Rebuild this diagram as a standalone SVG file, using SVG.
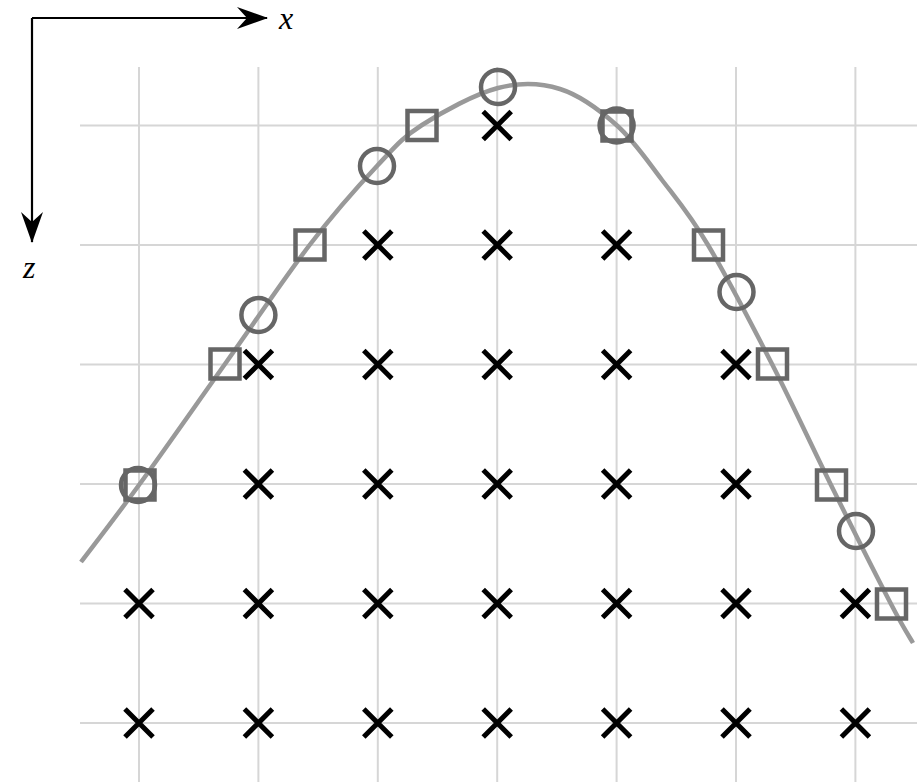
<svg xmlns="http://www.w3.org/2000/svg" width="917" height="782" viewBox="0 0 917 782">
  <defs>
    <style>
      .grid line { stroke: #d6d6d6; stroke-width: 2; }
      .axis { stroke: #000; stroke-width: 2.2; fill: none; }
      .curve { stroke: #999; stroke-width: 4.5; fill: none; }
      .circ { stroke: #666; stroke-width: 4.5; fill: none; }
      .sq { stroke: #666; stroke-width: 4.5; fill: none; }
      .lbl { font-family: "Liberation Serif", "Times New Roman", serif; font-style: italic; font-size: 32px; fill: #000; }
    </style>
    <path id="x" d="M-14,-14 L14,14 M-14,14 L14,-14" stroke="#000" stroke-width="5" fill="none"/>
    <marker id="ah" viewBox="0 0 32 22" refX="30" refY="11" markerWidth="32" markerHeight="22" markerUnits="userSpaceOnUse" orient="auto">
      <path d="M0,0 L31,11 L0,22 L10,11 Z" fill="#000"/>
    </marker>
  </defs>
  <rect width="917" height="782" fill="#fff"/>

  <!-- background grid -->
  <g class="grid">
    <line x1="139" y1="67" x2="139" y2="782"/>
    <line x1="258.4" y1="67" x2="258.4" y2="782"/>
    <line x1="377.8" y1="67" x2="377.8" y2="782"/>
    <line x1="497.2" y1="67" x2="497.2" y2="782"/>
    <line x1="616.6" y1="67" x2="616.6" y2="782"/>
    <line x1="736" y1="67" x2="736" y2="782"/>
    <line x1="855.4" y1="67" x2="855.4" y2="782"/>
    <line x1="80" y1="125.5" x2="917" y2="125.5"/>
    <line x1="80" y1="245" x2="917" y2="245"/>
    <line x1="80" y1="364.5" x2="917" y2="364.5"/>
    <line x1="80" y1="484" x2="917" y2="484"/>
    <line x1="80" y1="603.5" x2="917" y2="603.5"/>
    <line x1="80" y1="723" x2="917" y2="723"/>
  </g>

  <!-- coordinate axes -->
  <g id="axes">
    <path class="axis" d="M32,18 H267" marker-end="url(#ah)"/>
    <path class="axis" d="M32,18 V242" marker-end="url(#ah)"/>
    <text class="lbl" x="279" y="29">x</text>
    <text class="lbl" x="23" y="278">z</text>
  </g>

  <!-- interface curve -->
  <g id="connectors">
    <path class="curve" d="M81,562 C90.7,549.2 115,518 139,485 C163,452 196.5,404.1 225,364 C253.5,323.9 284.7,277.5 310,244.5 C335.3,211.5 358.3,185.9 377,166 C395.7,146.1 401.8,138 422,125 C442.2,112 475,94 498,88 C521,82 540.2,82.75 560,89 C579.8,95.25 600,110.3 617,125.5 C634,140.7 646.8,160.1 662,180 C677.2,199.9 689.7,214.3 708,245 C726.3,275.7 751.5,324 772,364 C792.5,404 811.2,445 831,485 C850.8,525 877.3,577.7 891,604 C904.7,630.3 909.3,636.5 913,643"/>
  </g>

  <!-- interior grid points -->
  <g id="crosses">
    <use href="#x" x="497.2" y="125.5"/>
    <use href="#x" x="377.8" y="245"/>
    <use href="#x" x="497.2" y="245"/>
    <use href="#x" x="616.6" y="245"/>
    <use href="#x" x="258.4" y="364.5"/>
    <use href="#x" x="377.8" y="364.5"/>
    <use href="#x" x="497.2" y="364.5"/>
    <use href="#x" x="616.6" y="364.5"/>
    <use href="#x" x="736" y="364.5"/>
    <use href="#x" x="258.4" y="484"/>
    <use href="#x" x="377.8" y="484"/>
    <use href="#x" x="497.2" y="484"/>
    <use href="#x" x="616.6" y="484"/>
    <use href="#x" x="736" y="484"/>
    <use href="#x" x="139" y="603.5"/>
    <use href="#x" x="258.4" y="603.5"/>
    <use href="#x" x="377.8" y="603.5"/>
    <use href="#x" x="497.2" y="603.5"/>
    <use href="#x" x="616.6" y="603.5"/>
    <use href="#x" x="736" y="603.5"/>
    <use href="#x" x="855.4" y="603.5"/>
    <use href="#x" x="139" y="723"/>
    <use href="#x" x="258.4" y="723"/>
    <use href="#x" x="377.8" y="723"/>
    <use href="#x" x="497.2" y="723"/>
    <use href="#x" x="616.6" y="723"/>
    <use href="#x" x="736" y="723"/>
    <use href="#x" x="855.4" y="723"/>
  </g>

  <!-- curve crossings of vertical grid lines -->
  <g id="circles">
    <circle class="circ" cx="138" cy="485" r="17"/>
    <circle class="circ" cx="258.4" cy="315" r="17"/>
    <circle class="circ" cx="377" cy="166" r="17"/>
    <circle class="circ" cx="498" cy="87" r="17"/>
    <circle class="circ" cx="616.6" cy="125.5" r="17"/>
    <circle class="circ" cx="736.5" cy="292" r="17"/>
    <circle class="circ" cx="856" cy="531" r="17"/>
  </g>

  <!-- curve crossings of horizontal grid lines -->
  <g id="squares">
    <rect class="sq" x="407.5" y="111" width="29" height="29"/>
    <rect class="sq" x="295.5" y="230.5" width="29" height="29"/>
    <rect class="sq" x="210.5" y="349.5" width="29" height="29"/>
    <rect class="sq" x="125.5" y="470.5" width="29" height="29"/>
    <rect class="sq" x="602.5" y="111.5" width="29" height="29"/>
    <rect class="sq" x="694" y="230.5" width="29" height="29"/>
    <rect class="sq" x="758" y="349.5" width="29" height="29"/>
    <rect class="sq" x="817" y="470.5" width="29" height="29"/>
    <rect class="sq" x="877" y="589.5" width="29" height="29"/>
  </g>
</svg>
